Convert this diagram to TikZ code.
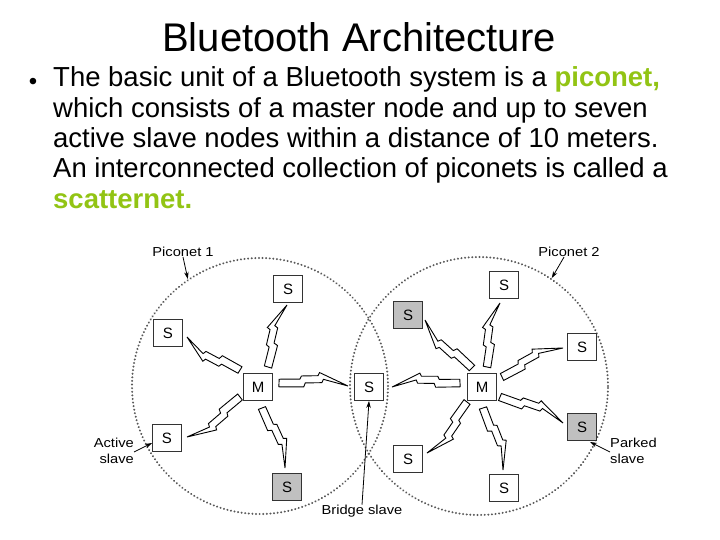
\documentclass[tikz,border=0pt]{standalone}
\usepackage{fontspec}
\setmainfont{Liberation Sans}
\usetikzlibrary{calc,arrows.meta}
\definecolor{kgreen}{RGB}{146,196,20}
\definecolor{boxgray}{RGB}{192,192,192}
% lightning bolt: #1 node, #2 offset of blunt end, #3 node, #4 offset of tip, #5 side (90 / -90)
\newcommand{\zbolt}[5]{%
  \coordinate (bs) at ($(#1)+(#2)$);
  \coordinate (be) at ($(#3)+(#4)$);
  \draw[boltline]
    ($(bs)!0!(be)!3.8pt!#5:(be)$) --
    ($(bs)!0.30!(be)!4.8pt!#5:(be)$) --
    ($(bs)!0.32!(be)!8.0pt!#5:(be)$) --
    ($(bs)!0.56!(be)!9.0pt!#5:(be)$) --
    ($(bs)!0.58!(be)!12.2pt!#5:(be)$) --
    (be) --
    ($(bs)!0.64!(be)!5.6pt!#5:(be)$) --
    ($(bs)!0.62!(be)!2.2pt!#5:(be)$) --
    ($(bs)!0.38!(be)!1.2pt!#5:(be)$) --
    ($(bs)!0.36!(be)!-2.8pt!#5:(be)$) --
    ($(bs)!0!(be)!-3.8pt!#5:(be)$) -- cycle;}
\begin{document}
\begin{tikzpicture}[x=1pt,y=-1pt,
  box/.style={draw=black!80, line width=0.9pt, fill=white, minimum width=29pt,
    minimum height=27pt, inner sep=0pt, font=\fontsize{15}{15}\selectfont},
  parked/.style={box, fill=boxgray},
  ring/.style={circle, draw=black!65, line width=2.2pt, dash pattern=on 0.01pt off 3.6pt,
    line cap=round, inner sep=0pt},
  lbl/.style={font=\fontsize{13}{16}\selectfont, inner sep=0pt},
  arr/.style={-{Stealth[length=7pt,width=4.5pt]}, line width=0.8pt},
  boltline/.style={draw=black, fill=white, line width=0.9pt, line join=miter},
  bodytext/.style={font=\fontsize{27.5}{30.5}\selectfont, anchor=base west, inner sep=0pt}]
\useasboundingbox (0,0) rectangle (720,540);
\fill[white] (0,0) rectangle (720,540);

% title and text
\node[font=\fontsize{40}{40}\selectfont, anchor=base, inner sep=0pt] (title) at (359,52) {Bluetooth Architecture};
\node[font=\fontsize{24}{24}\selectfont, anchor=base, inner sep=0pt] (bul) at (33,90) {•};
\node[bodytext] (l1) at (53,87) {The basic unit of a Bluetooth system is a \textcolor{kgreen}{\bfseries piconet,}};
\node[bodytext] (l2) at (53,118) {which consists of a master node and up to seven};
\node[bodytext] (l3) at (53,148) {active slave nodes within a distance of 10 meters.};
\node[bodytext] (l4) at (53,178) {An interconnected collection of piconets is called a};
\node[bodytext] (l5) at (53,208) {\textcolor{kgreen}{\bfseries scatternet.}};

% piconet circles
\node[ring, minimum size=256pt] (c1) at (260,386) {};
\node[ring, minimum size=258pt] (c2) at (479,386) {};

% nodes
\node[box] (M1) at (258,387) {M};
\node[box] (M2) at (482,387) {M};
\node[box] (B) at (369,387) {S};
\node[box] (s1a) at (288,289) {S};
\node[box] (s1b) at (168,333) {S};
\node[box] (s1c) at (167,438) {S};
\node[parked] (s1d) at (287,487) {S};
\node[box] (s2a) at (504,285) {S};
\node[parked] (s2b) at (408,315) {S};
\node[box] (s2c) at (582,347) {S};
\node[parked] (s2d) at (582,427) {S};
\node[box] (s2e) at (408,459) {S};
\node[box] (s2f) at (504,488) {S};

% radio links
\zbolt{M1}{10,-20}{s1a}{-1,16}{90}
\zbolt{M1}{-18,-17}{s1b}{19,4}{90}
\zbolt{M1}{-18,10}{s1c}{20,-1}{90}
\zbolt{M1}{4,21}{s1d}{-2,-19}{90}
\zbolt{M1}{21,-4}{B}{-21,-1}{90}
\zbolt{M2}{-22,-4}{B}{23,0}{-90}
\zbolt{M2}{5,-20}{s2a}{-4,18}{90}
\zbolt{M2}{-10,-19}{s2b}{17,5}{90}
\zbolt{M2}{20,-10}{s2c}{-19,1}{90}
\zbolt{M2}{18,10}{s2d}{-19,-4}{90}
\zbolt{M2}{-15,15}{s2e}{19,-6}{90}
\zbolt{M2}{1,21}{s2f}{-1,-18}{90}

% labels
\node[lbl] (lp1) at (183,252) {\scalebox{1.13}[1]{Piconet 1}};
\node[lbl] (lp2) at (569,252) {\scalebox{1.13}[1]{Piconet 2}};
\node[lbl, anchor=east] (lact) at (134,452) {\scalebox{1.13}[1]{\begin{tabular}{@{}r@{}}Active\\slave\end{tabular}}};
\node[lbl, anchor=west] (lpark) at (610,452) {\scalebox{1.13}[1]{\begin{tabular}{@{}l@{}}Parked\\slave\end{tabular}}};
\node[lbl] (lbr) at (362,511) {\scalebox{1.13}[1]{Bridge slave}};

\draw[arr] (lp1.south) -- (c1.124);
\draw[arr] ($(lp2.south west)!0.42!(lp2.south east)$) -- (c2.56);
\draw[arr] (lact.east) -- ($(s1c.west)+(0,5)$);
\draw[arr] (lpark.west) -- ($(s2d.south east)+(-7,1)$);
\draw[arr] (lbr.north) -- (B.south);
\end{tikzpicture}
\end{document}
